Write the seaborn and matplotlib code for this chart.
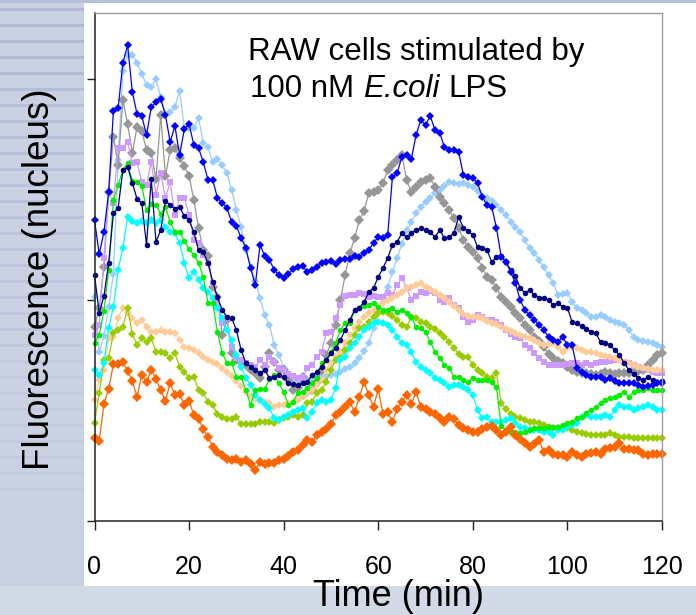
import matplotlib
matplotlib.use("Agg")
import matplotlib.pyplot as plt
import seaborn as sns
from matplotlib.patches import Rectangle

# time axis (min), one frame per minute
minutes = list(range(121))

# nuclear fluorescence per cell (arbitrary units)
cell_blue = [301, 267, 289, 329, 410, 413, 458, 476, 429, 407,
             405, 386, 414, 419, 422, 406, 379, 395, 366, 392,
             397, 376, 373, 359, 341, 341, 323, 318, 313, 299,
             295, 283, 273, 253, 236, 276, 265, 261, 251, 246,
             243, 247, 252, 254, 255, 249, 251, 254, 258, 259,
             260, 257, 261, 262, 262, 265, 264, 268, 271, 278,
             284, 283, 286, 344, 348, 364, 366, 362, 386, 401,
             396, 405, 391, 388, 374, 371, 371, 369, 346, 344,
             343, 338, 324, 316, 314, 293, 264, 259, 249, 238,
             221, 211, 206, 201, 196, 191, 184, 181, 179, 184,
             176, 176, 153, 149, 146, 144, 144, 144, 141, 143,
             140, 138, 138, 138, 138, 136, 134, 135, 136, 138,
             138]
cell_lightblue = [224, 169, 185, 214, 247, 361, 450, 466, 466, 458,
                  447, 436, 434, 442, 424, 407, 409, 414, 430, 393,
                  393, 393, 403, 378, 374, 359, 362, 356, 348, 331,
                  311, 294, 271, 254, 240, 223, 206, 196, 176, 166,
                  153, 145, 141, 140, 141, 141, 143, 144, 145, 145,
                  146, 147, 149, 152, 154, 158, 163, 170, 178, 193,
                  208, 224, 234, 249, 263, 277, 291, 299, 308, 314,
                  319, 323, 328, 331, 335, 339, 338, 337, 338, 336,
                  334, 330, 325, 323, 320, 316, 311, 306, 299, 294,
                  289, 281, 273, 268, 261, 254, 246, 238, 226, 227,
                  228, 219, 213, 211, 208, 204, 204, 206, 204, 201,
                  199, 198, 196, 191, 184, 181, 180, 179, 178, 176,
                  174]
cell_gray = [194, 213, 254, 329, 384, 356, 421, 397, 368, 394,
             390, 371, 368, 342, 406, 345, 371, 373, 363, 355,
             345, 321, 293, 271, 265, 234, 224, 186, 201, 168,
             161, 159, 156, 151, 148, 143, 154, 168, 159, 151,
             151, 141, 131, 133, 144, 129, 131, 139, 151, 166,
             178, 196, 221, 246, 268, 283, 301, 310, 328, 329,
             331, 338, 351, 356, 361, 366, 341, 329, 334, 339,
             341, 343, 334, 324, 318, 311, 303, 293, 281, 274,
             269, 263, 253, 244, 241, 233, 224, 219, 214, 208,
             203, 196, 191, 184, 180, 174, 167, 163, 160, 158,
             154, 151, 149, 148, 148, 147, 146, 147, 149, 148,
             147, 148, 148, 148, 149, 150, 151, 156, 161, 166,
             168]
cell_navy = [246, 208, 225, 258, 308, 313, 351, 354, 338, 322,
             318, 276, 342, 279, 291, 320, 316, 312, 314, 305,
             301, 289, 271, 269, 258, 239, 224, 211, 204, 203,
             191, 171, 158, 154, 151, 148, 151, 143, 144, 146,
             144, 138, 137, 136, 138, 139, 146, 149, 154, 161,
             168, 173, 181, 191, 201, 211, 213, 219, 229, 233,
             244, 253, 263, 276, 279, 288, 284, 288, 291, 293,
             291, 289, 284, 291, 283, 284, 288, 304, 293, 290,
             286, 274, 273, 271, 259, 264, 265, 259, 251, 245,
             233, 228, 231, 226, 223, 223, 221, 216, 218, 214,
             213, 199, 198, 195, 192, 189, 188, 179, 178, 176,
             171, 166, 158, 151, 147, 143, 141, 144, 141, 139,
             140]
cell_lavender = [186, 196, 263, 329, 318, 373, 373, 379, 358, 359,
                 339, 336, 359, 326, 348, 323, 339, 306, 323, 323,
                 306, 281, 278, 266, 258, 238, 218, 198, 203, 174,
                 163, 161, 158, 156, 154, 161, 156, 164, 159, 153,
                 151, 147, 145, 143, 144, 153, 156, 164, 169, 188,
                 189, 203, 216, 225, 226, 226, 228, 227, 224, 225,
                 224, 224, 228, 226, 236, 243, 233, 221, 225, 229,
                 228, 230, 228, 221, 219, 223, 216, 213, 204, 199,
                 201, 206, 204, 201, 201, 199, 196, 191, 187, 184,
                 183, 176, 173, 168, 163, 159, 156, 156, 156, 156,
                 157, 158, 158, 156, 158, 156, 158, 159, 159, 160,
                 161, 161, 159, 158, 156, 154, 153, 151, 149, 148,
                 148]
cell_green = [178, 186, 210, 251, 321, 336, 351, 358, 340, 339,
              335, 311, 317, 316, 307, 314, 299, 289, 289, 280,
              272, 266, 258, 244, 218, 218, 189, 168, 158, 158,
              144, 144, 131, 116, 131, 132, 132, 142, 146, 138,
              129, 116, 119, 128, 129, 133, 138, 143, 158, 161,
              169, 178, 191, 198, 198, 211, 213, 215, 216, 218,
              214, 211, 211, 213, 209, 211, 208, 204, 194, 193,
              189, 179, 169, 163, 156, 153, 144, 144, 141, 139,
              143, 141, 141, 141, 139, 134, 95, 91, 89, 89,
              88, 89, 91, 93, 93, 93, 94, 94, 94, 96,
              98, 99, 103, 104, 108, 111, 114, 118, 121, 123,
              124, 126, 129, 124, 129, 131, 131, 133, 131, 131,
              131]
cell_cyan = [151, 146, 158, 193, 214, 251, 273, 304, 300, 298,
             300, 298, 301, 298, 301, 294, 289, 288, 278, 258,
             243, 249, 241, 233, 229, 223, 213, 203, 191, 181,
             166, 154, 143, 136, 126, 121, 117, 113, 103, 101,
             104, 106, 109, 111, 113, 103, 109, 118, 121, 119,
             121, 133, 161, 164, 173, 178, 184, 191, 194, 198,
             199, 198, 196, 191, 184, 178, 176, 169, 159, 154,
             151, 148, 143, 141, 138, 134, 136, 136, 134, 131,
             126, 111, 103, 104, 99, 99, 99, 101, 103, 98,
             94, 93, 91, 91, 91, 89, 89, 86, 91, 91,
             94, 96, 98, 104, 106, 104, 104, 104, 106, 104,
             111, 116, 114, 114, 111, 113, 114, 116, 114, 111,
             111]
cell_peach = [121, 141, 151, 183, 184, 203, 213, 208, 203, 198,
              201, 194, 189, 189, 191, 189, 189, 188, 181, 174,
              173, 171, 168, 164, 161, 159, 157, 153, 149, 145,
              140, 135, 129, 125, 122, 120, 119, 118, 114, 116,
              116, 118, 119, 121, 124, 128, 131, 136, 141, 151,
              158, 164, 169, 178, 186, 193, 199, 204, 208, 211,
              214, 218, 221, 223, 226, 229, 233, 234, 236, 238,
              234, 232, 229, 226, 223, 219, 215, 211, 207, 205,
              204, 204, 203, 200, 198, 197, 194, 192, 190, 188,
              186, 184, 183, 181, 178, 176, 177, 178, 174, 169,
              173, 174, 173, 171, 169, 169, 168, 166, 165, 164,
              163, 161, 159, 158, 156, 154, 153, 152, 151, 151,
              151]
cell_olive = [98, 128, 161, 163, 188, 191, 194, 213, 187, 176,
              183, 179, 183, 169, 169, 168, 163, 168, 154, 149,
              143, 144, 131, 128, 119, 116, 107, 104, 102, 102,
              104, 97, 97, 97, 97, 99, 99, 99, 98, 101,
              103, 104, 106, 104, 106, 118, 119, 128, 131, 139,
              151, 161, 163, 171, 178, 186, 193, 194, 199, 204,
              208, 209, 208, 205, 201, 196, 194, 204, 203, 199,
              198, 194, 192, 188, 184, 179, 173, 167, 164, 164,
              156, 151, 148, 144, 143, 148, 118, 112, 107, 104,
              103, 101, 99, 99, 98, 96, 94, 93, 93, 94,
              93, 91, 89, 88, 87, 86, 86, 86, 86, 88,
              86, 84, 84, 84, 83, 83, 83, 83, 83, 83,
              83]
cell_orange = [83, 80, 117, 132, 157, 157, 159, 150, 140, 124,
               146, 139, 151, 142, 131, 120, 138, 126, 127, 116,
               120, 106, 102, 92, 84, 74, 69, 66, 62, 61,
               62, 59, 61, 57, 51, 59, 57, 58, 58, 61,
               62, 65, 69, 71, 76, 81, 79, 86, 89, 92,
               97, 106, 109, 114, 119, 109, 124, 139, 126, 114,
               132, 107, 109, 99, 112, 119, 126, 117, 129, 114,
               112, 109, 107, 103, 99, 104, 102, 96, 93, 91,
               89, 89, 92, 94, 95, 91, 86, 89, 94, 86,
               82, 78, 74, 77, 81, 69, 71, 67, 66, 66,
               64, 69, 66, 64, 67, 68, 69, 67, 72, 73,
               74, 78, 72, 72, 71, 71, 67, 66, 67, 67,
               67]

x_ticks = [0, 20, 40, 60, 80, 100, 120]
y_ticks = [0, 221, 442]

# (values, colour, marker, marker size) in drawing order
traces = [
    (cell_lightblue, "#99ccff", "D", 3.6),
    (cell_gray,      "#969696", "D", 5.2),
    (cell_lavender,  "#cc99ff", "s", 4.6),
    (cell_peach,     "#ffcc99", "D", 3.6),
    (cell_olive,     "#99cc00", "D", 3.6),
    (cell_cyan,      "#00ffff", "D", 3.6),
    (cell_green,     "#00ee00", "o", 4.0),
    (cell_navy,      "#000080", "o", 4.0),
    (cell_blue,      "#0000ff", "D", 3.6),
    (cell_orange,    "#ff6600", "D", 5.2),
]

sns.set_style("white")
plt.rcParams["font.family"] = ["Liberation Sans", "DejaVu Sans"]
plt.rcParams["text.color"] = "black"
plt.rcParams["xtick.color"] = "black"

W, H = 696, 615
fig = plt.figure(figsize=(W / 100, H / 100), dpi=100, facecolor="#c9d1e2")

# slide background: blue band on top, striped margin on the left, white panel
bg = dict(transform=fig.transFigure, zorder=-5, lw=0)
fig.patches.append(Rectangle((0, 1 - 3 / H), 1, 3 / H, color="#b4c0d6", **bg))
fig.patches.append(Rectangle((0, 0), 1, 29 / H, color="#d2d9e7", **bg))
for yy in range(8, 500, 16):
    fig.patches.append(Rectangle((0, 1 - (yy + 3) / H), 84 / W, 3 / H,
                                 color="#aeb8d8", alpha=max(0.25, 0.9 - yy / 600), **bg))
fig.patches.append(Rectangle((84 / W, 29 / H), 612 / W, 583 / H, color="white", **bg))

ax = fig.add_axes([94.5 / W, 94 / H, 567.5 / W, 508 / H])
ax.set_facecolor("white")

for vals, col, mk, ms in traces:
    sns.lineplot(x=minutes, y=vals, color=col, marker=mk, markersize=ms,
                 markeredgecolor=col, markeredgewidth=0, linewidth=0.9,
                 errorbar=None, legend=False, ax=ax, clip_on=False)

ax.set_xlim(0, 120)
ax.set_ylim(0, 508)
ax.set_xticks(x_ticks)
ax.set_yticks(y_ticks)
ax.set_yticklabels([])
ax.set_xlabel("")
ax.set_ylabel("")
ax.tick_params(axis="x", direction="out", length=6.5, width=1, color="#222222",
               labelsize=18, labelcolor="black", pad=18, bottom=True)
ax.tick_params(axis="y", direction="out", length=5.8, width=1, color="#222222", left=True)

for side in ["left", "bottom"]:
    ax.spines[side].set_color("#222222")
    ax.spines[side].set_linewidth(1.1)
for side in ["top", "right"]:
    ax.spines[side].set_color("#a0a0a0")
    ax.spines[side].set_linewidth(1.0)

fig.text(398 / W, 1 - 606 / H, "Time (min)", fontsize=26, ha="center", va="baseline")
fig.text(40 / W, 1 - 279 / H, "Fluorescence (nucleus)", fontsize=26.5,
         rotation=90, ha="center", va="center")

# annotation, second line has the italic species name
fs = 22.5
fig.text(248 / W, 1 - 60 / H, "RAW cells stimulated by", fontsize=fs, va="baseline")
renderer = fig.canvas.get_renderer()
space = 0.278 * fs * 100 / 72
x = 250
for part, style in [("100 nM", "normal"), ("E.coli", "italic"), ("LPS", "normal")]:
    t = fig.text(x / W, 1 - 97 / H, part, fontsize=fs, style=style, va="baseline")
    x = t.get_window_extent(renderer).x1 + space

fig.savefig("out.png", dpi=100, facecolor=fig.get_facecolor())
